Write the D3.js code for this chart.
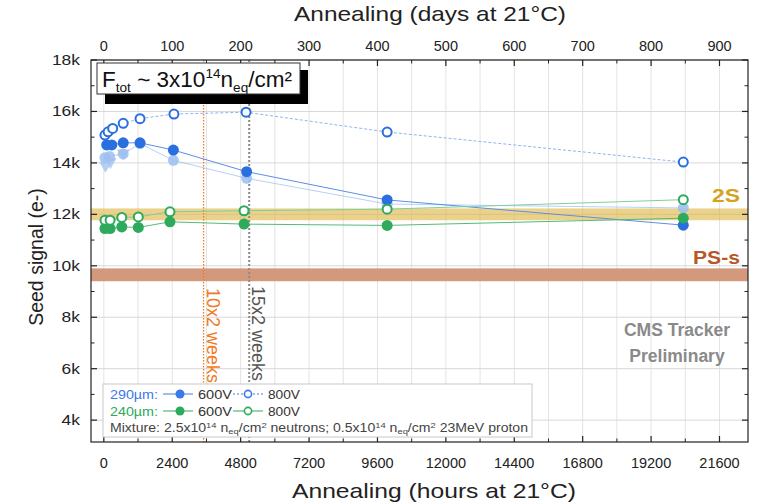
<!DOCTYPE html>
<html><head><meta charset="utf-8">
<script src="https://cdn.jsdelivr.net/npm/d3@7"></script>
<style>
html,body{margin:0;padding:0;background:#fff;}
text{font-family:"Liberation Sans",Arial,Helvetica,sans-serif;}
</style></head>
<body><svg id="c" width="768" height="504"></svg>
<script>
// ---- data (hours at 21°C, seed signal in e-) ----
const hours290 = [100, 280, 680, 1270, 2440, 5010, 9940, 20330];
const sig290_600V = [14700, 14700, 14780, 14780, 14500, 13660, 12560, 11580];
const hours290_800 = [40, 150, 310, 680, 1270, 2460, 4990, 9940, 20330];
const sig290_800V = [15080, 15210, 15340, 15540, 15720, 15900, 15970, 15200, 14030];
const hoursLightC = [40, 200, 680, 1270, 2440, 5010, 9940, 20330];
const sigLightC = [14200, 14250, 14350, 14750, 14100, 13400, 12400, 12250];
const hoursLightT = [60, 230, 680];
const sigLightT = [13900, 14050, 14380];
const hours240 = [40, 220, 630, 1210, 2320, 4920, 9940, 20330];
const sig240_600V = [11450, 11450, 11510, 11490, 11710, 11620, 11570, 11850];
const sig240_800V = [11770, 11770, 11880, 11900, 12100, 12140, 12200, 12570];
const band2S = [11770, 12230];
const bandPSs = [9400, 9900];
const marker10x2 = 3500, marker15x2 = 5100;
const xTicksHours = [0, 2400, 4800, 7200, 9600, 12000, 14400, 16800, 19200, 21600];
const xTicksDays = [0, 100, 200, 300, 400, 500, 600, 700, 800, 900];
const yTicks = [4000, 6000, 8000, 10000, 12000, 14000, 16000, 18000];
const yTickLabels = ["4k", "6k", "8k", "10k", "12k", "14k", "16k", "18k"];

const svg = d3.select("#c");
const L = 91, R = 748, T = 60, B = 442;
const x = d3.scaleLinear().domain([-450, 22600]).range([L, R]);
const xd = d3.scaleLinear().domain([-450/24, 22600/24]).range([L, R]);
const y = d3.scaleLinear().domain([3150, 18000]).range([B, T]);

const blue = "#2a6fdf", lightBlue = "#8fb5ee", green = "#2eaa5c";

function stretch(sel, f) {
  sel.each(function() {
    const w = this.getComputedTextLength();
    d3.select(this).attr("textLength", w * f).attr("lengthAdjust", "spacingAndGlyphs");
  });
  return sel;
}
function fitW(sel, w) {
  return sel.attr("textLength", w).attr("lengthAdjust", "spacingAndGlyphs");
}

// grid
const g = svg.append("g");
g.selectAll(".vg").data(d3.range(0, 22600, 1200)).join("line")
  .attr("x1", d => x(d)).attr("x2", d => x(d)).attr("y1", T).attr("y2", B)
  .attr("stroke", "#e3e3e3").attr("stroke-width", 1);
g.selectAll(".hg").data(yTicks).join("line")
  .attr("x1", L).attr("x2", R).attr("y1", d => y(d)).attr("y2", d => y(d))
  .attr("stroke", "#d8d8d8").attr("stroke-width", 1);

// bands
svg.append("rect").attr("x", L).attr("width", R - L)
  .attr("y", y(band2S[1])).attr("height", y(band2S[0]) - y(band2S[1]))
  .attr("fill", "#ddb645").attr("opacity", 0.62);
svg.append("rect").attr("x", L).attr("width", R - L)
  .attr("y", y(bandPSs[1])).attr("height", y(bandPSs[0]) - y(bandPSs[1]))
  .attr("fill", "#d29475").attr("opacity", 0.95);

// vertical markers
svg.append("line").attr("x1", x(marker10x2)).attr("x2", x(marker10x2)).attr("y1", T).attr("y2", B)
  .attr("stroke", "#f07a22").attr("stroke-width", 1.3).attr("stroke-dasharray", "1.5,1.5");
svg.append("line").attr("x1", x(marker15x2)).attr("x2", x(marker15x2)).attr("y1", T).attr("y2", B)
  .attr("stroke", "#8a8a8a").attr("stroke-width", 2).attr("stroke-dasharray", "2,2");
svg.append("text").attr("transform", `translate(${x(marker10x2)+3},288) rotate(90)`)
  .attr("font-size", 18).attr("fill", "#f07a22").text("10x2 weeks");
svg.append("text").attr("transform", `translate(${x(marker15x2)+3},286) rotate(90)`)
  .attr("font-size", 18).attr("fill", "#555").text("15x2 weeks");

// lines
function line(xs, ys) { return d3.line().x((d,i)=>x(xs[i])).y(d=>y(d))(ys); }
svg.append("path").attr("d", line(hoursLightC, sigLightC)).attr("fill","none").attr("stroke", lightBlue).attr("stroke-width", 0.8).attr("opacity",0.8);
svg.append("path").attr("d", line(hours290_800, sig290_800V)).attr("fill","none").attr("stroke", lightBlue).attr("stroke-width", 1).attr("stroke-dasharray","3,2");
svg.append("path").attr("d", line(hours290, sig290_600V)).attr("fill","none").attr("stroke", "#5b8fe6").attr("stroke-width", 1);
svg.append("path").attr("d", line(hours240, sig240_800V)).attr("fill","none").attr("stroke", "#7fcf9c").attr("stroke-width", 1);
svg.append("path").attr("d", line(hours240, sig240_600V)).attr("fill","none").attr("stroke", "#55ba79").attr("stroke-width", 1);

// markers
const r = 5.5;
svg.selectAll(".lt").data(sigLightT).join("path")
  .attr("d", d3.symbol(d3.symbolTriangle, 70)())
  .attr("transform", (d,i)=>`translate(${x(hoursLightT[i])},${y(d)}) rotate(180)`)
  .attr("fill", "#a9c6f2").attr("opacity", 0.85);
svg.selectAll(".lc").data(sigLightC).join("circle")
  .attr("cx",(d,i)=>x(hoursLightC[i])).attr("cy",d=>y(d)).attr("r", r)
  .attr("fill", "#9cbef0").attr("opacity", 0.85);
svg.selectAll(".b6").data(sig290_600V).join("circle")
  .attr("cx",(d,i)=>x(hours290[i])).attr("cy",d=>y(d)).attr("r", r).attr("fill", blue);
svg.selectAll(".b8").data(sig290_800V).join("circle")
  .attr("cx",(d,i)=>x(hours290_800[i])).attr("cy",d=>y(d)).attr("r", r-1)
  .attr("fill", "#fff").attr("stroke", blue).attr("stroke-width", 2);
svg.selectAll(".g6").data(sig240_600V).join("circle")
  .attr("cx",(d,i)=>x(hours240[i])).attr("cy",d=>y(d)).attr("r", r).attr("fill", green);
svg.selectAll(".g8").data(sig240_800V).join("circle")
  .attr("cx",(d,i)=>x(hours240[i])).attr("cy",d=>y(d)).attr("r", r-1)
  .attr("fill", "#fff").attr("stroke", green).attr("stroke-width", 2);

// band labels
fitW(svg.append("text").attr("x", 712).attr("y", 202)
  .attr("font-size", 18).attr("font-weight","bold").attr("fill", "#d4a21c").text("2S"), 28);
fitW(svg.append("text").attr("x", 693).attr("y", 264)
  .attr("font-size", 18).attr("font-weight","bold").attr("fill", "#b8582a").text("PS-s"), 47);

// CMS label
svg.append("text").attr("x", 677).attr("y", 336).attr("text-anchor","middle")
  .attr("font-size", 17.5).attr("font-weight","bold").attr("fill", "#8a8a8a").text("CMS Tracker");
svg.append("text").attr("x", 677).attr("y", 362).attr("text-anchor","middle")
  .attr("font-size", 17.5).attr("font-weight","bold").attr("fill", "#8a8a8a").text("Preliminary");

// frame + axes
svg.append("rect").attr("x", L).attr("y", T).attr("width", R-L).attr("height", B-T)
  .attr("fill","none").attr("stroke","#222").attr("stroke-width",1.2);
function ticks(axis, scale, major, minor) {
  const gg = svg.append("g").attr("transform",
    axis==="bottom" ? `translate(0,${B})` : axis==="top" ? `translate(0,${T})` :
    axis==="left" ? `translate(${L},0)` : `translate(${R},0)`);
  const dir = (axis==="bottom"||axis==="right") ? -1 : 1;
  const horiz = axis==="bottom"||axis==="top";
  gg.selectAll(".mj").data(major).join("line")
    .attr(horiz?"x1":"y1", d=>scale(d)).attr(horiz?"x2":"y2", d=>scale(d))
    .attr(horiz?"y1":"x1", 0).attr(horiz?"y2":"x2", dir*6).attr("stroke","#222").attr("stroke-width",1.2);
  gg.selectAll(".mn").data(minor).join("line")
    .attr(horiz?"x1":"y1", d=>scale(d)).attr(horiz?"x2":"y2", d=>scale(d))
    .attr(horiz?"y1":"x1", 0).attr(horiz?"y2":"x2", dir*3.5).attr("stroke","#222").attr("stroke-width",1);
}
ticks("bottom", x, xTicksHours, d3.range(1200, 22600, 2400));
ticks("top", xd, xTicksDays, d3.range(50, 942, 100));
ticks("left", y, yTicks, d3.range(5000, 18000, 2000));
ticks("right", y, yTicks, d3.range(5000, 18000, 2000));

svg.selectAll(".xl").data(xTicksHours).join("text")
  .attr("x", d=>x(d)).attr("y", 468).attr("text-anchor","middle").attr("font-size", 14.5).attr("fill","#222").text(d=>d);
svg.selectAll(".xt").data(xTicksDays).join("text")
  .attr("x", d=>xd(d)).attr("y", 51).attr("text-anchor","middle").attr("font-size", 14.5).attr("fill","#222").text(d=>d);
stretch(svg.selectAll(".yl").data(yTicks).join("text")
  .attr("x", 80).attr("y", d=>y(d)+5).attr("text-anchor","end").attr("font-size", 14.5).attr("fill","#222")
  .text((d,i)=>yTickLabels[i]), 1.2);

fitW(svg.append("text").attr("x", 434).attr("y", 498).attr("text-anchor","middle").attr("font-size", 21).attr("fill","#222")
  .text("Annealing (hours at 21°C)"), 284);
fitW(svg.append("text").attr("x", 430).attr("y", 21).attr("text-anchor","middle").attr("font-size", 21).attr("fill","#222")
  .text("Annealing (days at 21°C)"), 272);
svg.append("text").attr("transform","translate(43,257) rotate(-90)").attr("text-anchor","middle").attr("font-size", 19.5).attr("fill","#222")
  .text("Seed signal (e-)");

// annotation box
svg.append("rect").attr("x", 105).attr("y", 70).attr("width", 203).attr("height", 34).attr("fill","#000");
svg.append("rect").attr("x", 97).attr("y", 63).attr("width", 203).attr("height", 31).attr("fill","#fff").attr("stroke","#333").attr("stroke-width",1);
const ft = svg.append("text").attr("x", 102).attr("y", 87).attr("font-size", 21.5).attr("fill","#111");
ft.append("tspan").text("F");
ft.append("tspan").attr("dy", 5).attr("font-size", 13).text("tot");
ft.append("tspan").attr("dy", -5).text(" ~ 3x10");
ft.append("tspan").attr("dy", -9).attr("font-size", 13).text("14");
ft.append("tspan").attr("dy", 9).text("n");
ft.append("tspan").attr("dy", 5).attr("font-size", 13).text("eq");
ft.append("tspan").attr("dy", -5).text("/cm²");
fitW(ft, 190);

// legend
const lg = svg.append("g");
lg.append("rect").attr("x", 103).attr("y", 384).attr("width", 429).attr("height", 53)
  .attr("fill","#fff").attr("stroke","#c8c8c8");
function legRow(yy, label, col, lineDash800) {
  fitW(lg.append("text").attr("x", 110).attr("y", yy+4.5).attr("font-size", 12.5).attr("fill", col).text(label), 48);
  lg.append("line").attr("x1", 163).attr("x2", 193).attr("y1", yy).attr("y2", yy).attr("stroke", col).attr("stroke-width",1);
  lg.append("circle").attr("cx", 180).attr("cy", yy).attr("r", 4.5).attr("fill", col);
  fitW(lg.append("text").attr("x", 198).attr("y", yy+4.5).attr("font-size", 12.5).attr("fill","#333").text("600V"), 34);
  lg.append("line").attr("x1", 233).attr("x2", 263).attr("y1", yy).attr("y2", yy).attr("stroke", col).attr("stroke-width",1)
    .attr("stroke-dasharray", lineDash800);
  lg.append("circle").attr("cx", 248).attr("cy", yy).attr("r", 3.6).attr("fill","#fff").attr("stroke", col).attr("stroke-width",1.6);
  fitW(lg.append("text").attr("x", 268).attr("y", yy+4.5).attr("font-size", 12.5).attr("fill","#333").text("800V"), 32);
}
legRow(394, "290µm:", "#3a7be6", "2,2");
legRow(411, "240µm:", green, null);
const mt = lg.append("text").attr("x", 110).attr("y", 432).attr("font-size", 12).attr("fill","#444");
mt.append("tspan").text("Mixture: 2.5x10");
mt.append("tspan").attr("dy",-4).attr("font-size",8).text("14");
mt.append("tspan").attr("dy",4).text(" n");
mt.append("tspan").attr("dy",2).attr("font-size",8).text("eq");
mt.append("tspan").attr("dy",-2).text("/cm");
mt.append("tspan").attr("dy",-4).attr("font-size",8).text("2");
mt.append("tspan").attr("dy",4).text(" neutrons; 0.5x10");
mt.append("tspan").attr("dy",-4).attr("font-size",8).text("14");
mt.append("tspan").attr("dy",4).text(" n");
mt.append("tspan").attr("dy",2).attr("font-size",8).text("eq");
mt.append("tspan").attr("dy",-2).text("/cm");
mt.append("tspan").attr("dy",-4).attr("font-size",8).text("2");
mt.append("tspan").attr("dy",4).text(" 23MeV proton");
fitW(mt, 418);
</script></body></html>
